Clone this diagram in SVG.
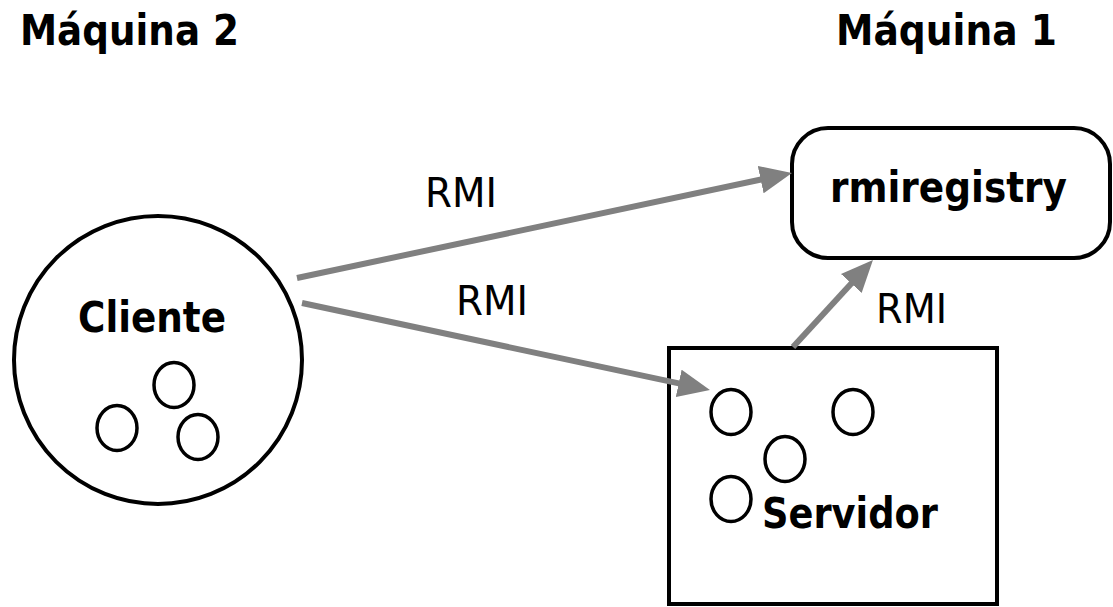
<svg xmlns="http://www.w3.org/2000/svg" width="1113" height="607" viewBox="0 0 1113 607">
<style>
.title{font-family:"DejaVu Sans",Verdana,sans-serif;font-weight:bold;font-size:43px;fill:#000}
.lbl{font-family:"DejaVu Sans",Verdana,sans-serif;font-weight:bold;font-size:43px;fill:#000}
.rmi{font-family:"DejaVu Sans",Verdana,sans-serif;font-size:40px;fill:#000}
.shape{fill:#fff;stroke:#000;stroke-width:4}
.obj{fill:none;stroke:#000;stroke-width:3.5}
.conn{stroke:#808080;stroke-width:6;fill:none;marker-end:url(#ah)}
</style>
<defs>
<marker id="ah" viewBox="0 0 32 28" refX="17" refY="14" markerWidth="32" markerHeight="28" markerUnits="userSpaceOnUse" orient="auto">
<path d="M0,0 L32,14 L0,28 Z" fill="#808080"/>
</marker>
</defs>
<rect width="1113" height="607" fill="#fff"/>
<text class="title" x="20" y="45" textLength="219" lengthAdjust="spacingAndGlyphs">Máquina 2</text>
<text class="title" x="836" y="45" textLength="221" lengthAdjust="spacingAndGlyphs">Máquina 1</text>
<g id="cliente">
<circle class="shape" cx="158" cy="360" r="144"/>
<text class="lbl" x="78" y="332" textLength="148" lengthAdjust="spacingAndGlyphs">Cliente</text>
<ellipse class="obj" cx="174" cy="385" rx="20" ry="22.5"/>
<ellipse class="obj" cx="117" cy="428" rx="20" ry="22.5"/>
<ellipse class="obj" cx="198" cy="437" rx="20" ry="22.5"/>
</g>
<g id="rmiregistry">
<rect class="shape" x="792" y="128" width="318" height="130" rx="36" ry="36"/>
<text class="lbl" x="830" y="202" textLength="237" lengthAdjust="spacingAndGlyphs">rmiregistry</text>
</g>
<g id="servidor">
<rect class="shape" x="669" y="348" width="328" height="256"/>
<ellipse class="obj" cx="731" cy="412" rx="20" ry="22.5"/>
<ellipse class="obj" cx="853" cy="412" rx="20" ry="22.5"/>
<ellipse class="obj" cx="785" cy="459" rx="20" ry="22.5"/>
<ellipse class="obj" cx="731" cy="499" rx="20" ry="22.5"/>
<text class="lbl" x="762" y="528" textLength="176" lengthAdjust="spacingAndGlyphs">Servidor</text>
</g>
<g id="connectors">
<line class="conn" x1="297" y1="278" x2="777.3" y2="176.1"/>
<line class="conn" x1="302" y1="303" x2="695.3" y2="386.9"/>
<line class="conn" x1="793" y1="347" x2="862.8" y2="271"/>
<text class="rmi" x="425" y="207" textLength="72" lengthAdjust="spacingAndGlyphs">RMI</text>
<text class="rmi" x="456" y="315" textLength="72" lengthAdjust="spacingAndGlyphs">RMI</text>
<text class="rmi" x="876" y="323" textLength="71" lengthAdjust="spacingAndGlyphs">RMI</text>
</g>
</svg>
